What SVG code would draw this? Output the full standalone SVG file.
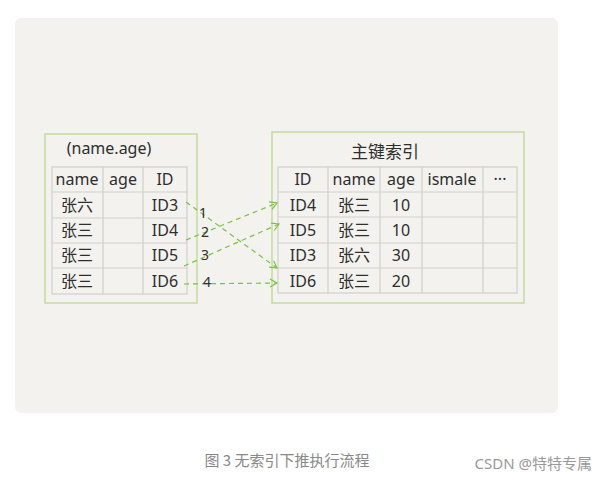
<svg xmlns="http://www.w3.org/2000/svg" width="607" height="482" viewBox="0 0 607 482">
<defs>
<style>
.box{fill:none;stroke:#c3dca0;stroke-width:1.5}
.grid{fill:none;stroke:#cfcfcb;stroke-width:1.2}
.t{font-family:"Comic Sans MS","Noto Sans","Noto Sans CJK SC",sans-serif;font-size:16px;fill:#2e2e2e;text-anchor:middle}
.n{font-size:14px}
.c{stroke:#7cc046;stroke-width:1.2;stroke-dasharray:5 4;fill:none;marker-end:url(#ah)}
</style>
<marker id="ah" markerWidth="10" markerHeight="10" refX="8" refY="5" orient="auto" markerUnits="userSpaceOnUse"><path d="M1,1 L8,5 L1,9" fill="none" stroke="#7cc046" stroke-width="1.2"/></marker>
</defs>
<rect width="607" height="482" fill="#fff"/>
<rect x="15" y="18" width="543" height="395" rx="6" fill="#f3f2ee"/>
<g id="left">
<rect class="box" x="45" y="134" width="152" height="169"/>
<text class="t" x="109" y="154">(name.age)</text>
<rect class="grid" x="52" y="167" width="135" height="127"/>
<path class="grid" d="M103,167V294M143,167V294M52,192H187M52,218H187M52,243H187M52,268H187"/>
<text class="t" x="77" y="185">name</text><text class="t" x="123" y="185">age</text><text class="t" x="165" y="185">ID</text>
<text class="t" x="77" y="211">张六</text><text class="t" x="165" y="211">ID3</text>
<text class="t" x="77" y="236">张三</text><text class="t" x="165" y="236">ID4</text>
<text class="t" x="77" y="261">张三</text><text class="t" x="165" y="261">ID5</text>
<text class="t" x="77" y="287">张三</text><text class="t" x="165" y="287">ID6</text>
</g>
<g id="right">
<rect class="box" x="272" y="132" width="252" height="171"/>
<text class="t" x="385" y="158" style="font-size:17px">主键索引</text>
<rect class="grid" x="278" y="167" width="239" height="126"/>
<path class="grid" d="M328,167V293M380,167V293M422,167V293M483,167V293M278,192H517M278,217H517M278,243H517M278,268H517"/>
<text class="t" x="303" y="185">ID</text><text class="t" x="354" y="185">name</text><text class="t" x="401" y="185">age</text><text class="t" x="452" y="185">ismale</text><text class="t" x="500" y="185">···</text>
<text class="t" x="303" y="211">ID4</text><text class="t" x="354" y="211">张三</text><text class="t" x="401" y="211">10</text>
<text class="t" x="303" y="236">ID5</text><text class="t" x="354" y="236">张三</text><text class="t" x="401" y="236">10</text>
<text class="t" x="303" y="261">ID3</text><text class="t" x="354" y="261">张六</text><text class="t" x="401" y="261">30</text>
<text class="t" x="303" y="287">ID6</text><text class="t" x="354" y="287">张三</text><text class="t" x="401" y="287">20</text>
</g>
<g id="connectors">
<path class="c" d="M186,202 L277,268"/>
<path class="c" d="M186,240 L277,203"/>
<path class="c" d="M184,266 L279,224"/>
<path class="c" d="M184,284 L277,283"/>
<text class="t n" x="203" y="218">1</text>
<text class="t n" x="205" y="237">2</text>
<text class="t n" x="205" y="260">3</text>
<text class="t n" x="207" y="287">4</text>
</g>
<text x="287" y="466" style="font-family:'Noto Sans CJK SC',sans-serif;font-size:15px;fill:#888;text-anchor:middle">图 3 无索引下推执行流程</text>
<text x="592" y="469" style="font-family:'Noto Sans','Noto Sans CJK SC',sans-serif;font-size:15px;fill:#999;text-anchor:end">CSDN @特特专属</text>
</svg>
